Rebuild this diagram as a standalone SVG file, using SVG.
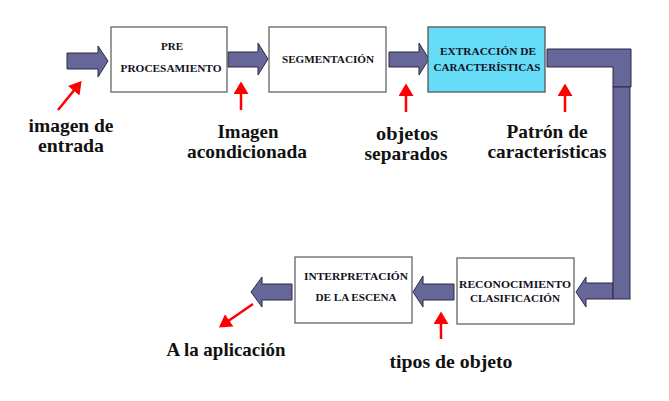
<svg xmlns="http://www.w3.org/2000/svg" width="669" height="401" viewBox="0 0 669 401">
<style>
.box{fill:#ffffff;stroke:#666666;stroke-width:1.3}
.cyan{fill:#66dcf7;stroke:#555555;stroke-width:1.3}
.bt{font-family:"Liberation Serif","Times New Roman",serif;font-weight:bold;font-size:11px;fill:#111122;text-anchor:middle}
.lab{font-family:"Liberation Serif","Times New Roman",serif;font-weight:bold;font-size:19px;fill:#111111;text-anchor:middle}
.fat{fill:#666699;stroke:#2b2b44;stroke-width:1;stroke-linejoin:miter}
.red{stroke:#ff0000;stroke-width:2.5;fill:none}
</style>
<defs>
<marker id="rh" markerWidth="6" markerHeight="6" refX="4" refY="3" orient="auto" markerUnits="strokeWidth">
<path d="M0,0 L5,3 L0,6 Z" fill="#ff0000"/>
</marker>
</defs>
<rect width="669" height="401" fill="#ffffff"/>
<g id="connectors">
<path class="fat" d="M67,53 H98 V46 L108,61 L98,77 V69 H67 Z"/>
<path class="fat" d="M228,52 H258 V43 L268,59 L258,75 V67 H228 Z"/>
<path class="fat" d="M389,52 H419 V43 L429,59 L419,75 V67 H389 Z"/>
<path class="fat" d="M547,49 H631 V87 H613 V67 H547 Z"/>
<path class="fat" d="M613,283 H586 V277 L576,292 L586,307 V299 H613 Z"/>
<rect class="fat" x="613" y="87" width="17" height="212"/>
<path class="fat" d="M454,284 H423 V276 L413,292 L423,307 V300 H454 Z"/>
<path class="fat" d="M292,284 H262 V277 L251,292 L262,307 V300 H292 Z"/>
<line class="red" x1="58" y1="110" x2="80" y2="83" marker-end="url(#rh)"/>
<line class="red" x1="241" y1="110" x2="241" y2="84" marker-end="url(#rh)"/>
<line class="red" x1="406" y1="112" x2="406" y2="86" marker-end="url(#rh)"/>
<line class="red" x1="565" y1="112" x2="565" y2="86" marker-end="url(#rh)"/>
<line class="red" x1="253" y1="304" x2="221" y2="326" marker-end="url(#rh)"/>
<line class="red" x1="441" y1="339" x2="441" y2="314" marker-end="url(#rh)"/>
</g>
<g id="pre">
<rect class="box" x="111" y="27" width="116" height="65"/>
<text class="bt" x="172" y="50">PRE</text>
<text class="bt" x="171" y="72" textLength="101" lengthAdjust="spacingAndGlyphs">PROCESAMIENTO</text>
</g>
<g id="segmentacion">
<rect class="box" x="269" y="27" width="117" height="65"/>
<text class="bt" x="328" y="63" textLength="92" lengthAdjust="spacingAndGlyphs">SEGMENTACIÓN</text>
</g>
<g id="extraccion">
<rect class="cyan" x="428" y="27" width="117" height="65"/>
<text class="bt" x="488" y="55" textLength="96" lengthAdjust="spacingAndGlyphs">EXTRACCIÓN DE</text>
<text class="bt" x="487" y="71" textLength="107" lengthAdjust="spacingAndGlyphs">CARACTERÍSTICAS</text>
</g>
<g id="reconocimiento">
<rect class="box" x="457" y="258" width="117" height="66"/>
<text class="bt" x="515" y="288" textLength="112" lengthAdjust="spacingAndGlyphs">RECONOCIMIENTO</text>
<text class="bt" x="515" y="302" textLength="90" lengthAdjust="spacingAndGlyphs">CLASIFICACIÓN</text>
</g>
<g id="interpretacion">
<rect class="box" x="295" y="257" width="117" height="66"/>
<text class="bt" x="356" y="280" textLength="104" lengthAdjust="spacingAndGlyphs">INTERPRETACIÓN</text>
<text class="bt" x="356" y="301" textLength="81" lengthAdjust="spacingAndGlyphs">DE LA ESCENA</text>
</g>
<g id="labels">
<text class="lab" x="71" y="132" textLength="85" lengthAdjust="spacingAndGlyphs">imagen de</text>
<text class="lab" x="71" y="152" textLength="66" lengthAdjust="spacingAndGlyphs">entrada</text>
<text class="lab" x="248" y="138" textLength="61" lengthAdjust="spacingAndGlyphs">Imagen</text>
<text class="lab" x="247" y="158" textLength="120" lengthAdjust="spacingAndGlyphs">acondicionada</text>
<text class="lab" x="407" y="140" textLength="62" lengthAdjust="spacingAndGlyphs">objetos</text>
<text class="lab" x="406" y="160" textLength="83" lengthAdjust="spacingAndGlyphs">separados</text>
<text class="lab" x="547" y="138" textLength="81" lengthAdjust="spacingAndGlyphs">Patrón de</text>
<text class="lab" x="547" y="158" textLength="119" lengthAdjust="spacingAndGlyphs">características</text>
<text class="lab" x="226" y="356" textLength="119" lengthAdjust="spacingAndGlyphs">A la aplicación</text>
<text class="lab" x="451" y="368" textLength="123" lengthAdjust="spacingAndGlyphs">tipos de objeto</text>
</g>
</svg>
